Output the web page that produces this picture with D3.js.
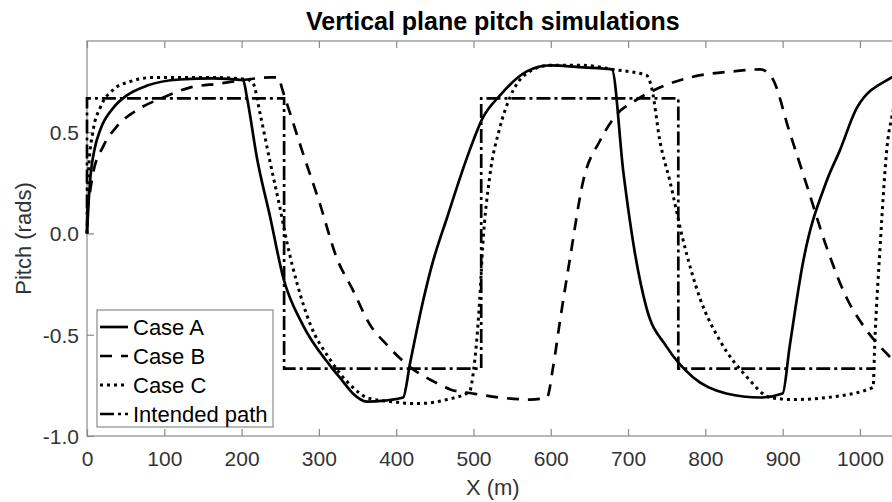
<!DOCTYPE html>
<html>
<head>
<meta charset="utf-8">
<script src="https://cdn.jsdelivr.net/npm/d3@7"></script>
<style>
  body { margin: 0; background: #fff; overflow: hidden; }
  text { font-family: "Liberation Sans", Arial, sans-serif; }
</style>
</head>
<body>
<div id="chart"></div>
<script>

var W = 892, H = 502;

// data: [x (m), pitch (rads)]
var caseA = [[0,0],[2,0.15],[4,0.26],[10,0.42],[17,0.51],[34,0.62],[51,0.68],[78,0.73],[120,0.76],[163,0.765],
	[202,0.757],[207,0.67],[220,0.37],[237,0.08],[254,-0.22],[279,-0.45],[314,-0.65],[331,-0.73],[344,-0.79],
	[362,-0.83],[385,-0.825],[409,-0.81],[418,-0.64],[435,-0.33],[446,-0.16],[466,0.08],[495,0.41],[512,0.57],
	[534,0.68],[569,0.80],[599,0.83],[642,0.82],[679,0.81],[694,0.30],[709,-0.10],[724,-0.37],[750,-0.56],
	[784,-0.71],[827,-0.79],[871,-0.81],[900,-0.79],[909,-0.56],[926,-0.15],[957,0.26],[974,0.41],[996,0.62],
	[1041,0.77],[1050,0.79]];

var caseB = [[0,0.1],[8,0.30],[21,0.43],[39,0.53],[65,0.61],[98,0.67],[133,0.72],[172,0.74],[207,0.76],[237,0.77],
	[248,0.77],[252,0.72],[263,0.59],[279,0.40],[301,0.15],[323,-0.12],[344,-0.28],[366,-0.45],[388,-0.55],
	[418,-0.66],[448,-0.73],[470,-0.77],[499,-0.79],[534,-0.81],[573,-0.82],[595,-0.81],[603,-0.66],[612,-0.43],
	[625,-0.12],[642,0.26],[664,0.46],[686,0.59],[711,0.66],[741,0.72],[780,0.77],[836,0.80],[871,0.81],
	[886,0.77],[909,0.50],[931,0.24],[957,-0.07],[983,-0.32],[1009,-0.48],[1039,-0.61],[1050,-0.65]];

var caseC = [[0,0],[2,0.31],[8,0.51],[17,0.62],[34,0.71],[56,0.75],[86,0.77],[120,0.77],[163,0.77],[207,0.76],
	[215,0.74],[224,0.59],[237,0.35],[250,0.12],[259,-0.05],[272,-0.25],[289,-0.45],[314,-0.62],[327,-0.69],
	[344,-0.76],[362,-0.81],[392,-0.83],[427,-0.84],[466,-0.82],[495,-0.78],[500,-0.68],[508,-0.33],[512,-0.06],
	[521,0.28],[534,0.52],[547,0.67],[569,0.79],[599,0.83],[642,0.83],[680,0.81],[724,0.78],[731,0.71],
	[741,0.46],[754,0.26],[771,-0.03],[793,-0.32],[819,-0.53],[854,-0.71],[884,-0.81],[914,-0.82],[957,-0.81],
	[1017,-0.76],[1019,-0.56],[1026,-0.07],[1036,0.46],[1041,0.57],[1050,0.72]];

var intended = [[0,0],[0,0.667],[255,0.667],[255,-0.667],[510,-0.667],[510,0.667],[765,0.667],[765,-0.667],[1020,-0.667]];

var xTicks = [0,100,200,300,400,500,600,700,800,900,1000];
var yTicks = [-1,-0.5,0,0.5];

var seriesNames = ["Case A","Case B","Case C","Intended path"];
var seriesData = [caseA, caseB, caseC, intended];
var dashes = [null, "12,9", "3,4", "14,4,3,4"];

var mLeft = 87, mTop = 41, mBottom = 436;

var x = d3.scaleLinear().domain([0,1050]).range([mLeft, mLeft + 811.6]);
var y = d3.scaleLinear().domain([-1,0.95]).range([mBottom, mTop]);

var svg = d3.select("#chart").append("svg")
	.attr("width", W)
	.attr("height", H);

svg.append("rect").attr("width", W).attr("height", H).attr("fill", "#fff");

// box
svg.append("rect")
	.attr("x", x(0)).attr("y", mTop)
	.attr("width", x(1050) - x(0)).attr("height", mBottom - mTop)
	.attr("fill", "none").attr("stroke", "#8a8a8a").attr("stroke-width", 1.2);

// axes, ticks pointing in
var gx = svg.append("g").attr("transform", "translate(0," + mBottom + ")")
	.call(d3.axisBottom(x).tickValues(xTicks).tickSizeInner(-7).tickSizeOuter(0)
		.tickFormat(function(d){ return d; }));
var gxt = svg.append("g").attr("transform", "translate(0," + mTop + ")")
	.call(d3.axisTop(x).tickValues(xTicks).tickSizeInner(-7).tickSizeOuter(0).tickFormat(""));
var gy = svg.append("g").attr("transform", "translate(" + mLeft + ",0)")
	.call(d3.axisLeft(y).tickValues(yTicks).tickSizeInner(-7).tickSizeOuter(0)
		.tickFormat(function(d){ return d.toFixed(1); }));

[gx, gxt, gy].forEach(function(g){
	g.select(".domain").remove();
	g.selectAll(".tick line").attr("stroke", "#8a8a8a").attr("stroke-width", 1.2);
	g.selectAll("text").attr("fill", "#333").style("font-size", "21px")
		.style("font-family", "'Liberation Sans', Arial, sans-serif");
});
gx.selectAll("text").attr("dy", "0.71em").attr("y", 15);
gy.selectAll("text").attr("dy", "0.36em").attr("x", -8);

// lines
var line = d3.line()
	.x(function(d){ return x(d[0]); })
	.y(function(d){ return y(d[1]); });

svg.append("defs").append("clipPath").attr("id", "clip")
	.append("rect").attr("x", x(0) - 2).attr("y", mTop).attr("width", x(1050) - x(0) + 2).attr("height", mBottom - mTop);

var plot = svg.append("g").attr("clip-path", "url(#clip)");

seriesData.forEach(function(s, i){
	plot.append("path")
		.attr("d", i < 3 ? line.curve(d3.curveMonotoneX)(s) : line.curve(d3.curveLinear)(s))
		.attr("fill", "none")
		.attr("stroke", "#000")
		.attr("stroke-width", i == 2 ? 3 : 2.7)
		.attr("stroke-dasharray", dashes[i]);
});

// title and labels
svg.append("text")
	.attr("x", (x(0) + x(1050)) / 2).attr("y", 30)
	.attr("text-anchor", "middle")
	.style("font-size", "25px").style("font-weight", "bold")
	.attr("fill", "#000")
	.text("Vertical plane pitch simulations");

svg.append("text")
	.attr("x", (x(0) + x(1050)) / 2).attr("y", 495)
	.attr("text-anchor", "middle")
	.style("font-size", "22px")
	.attr("fill", "#333")
	.text("X (m)");

svg.append("text")
	.attr("transform", "translate(31," + (mTop + mBottom) / 2 + ") rotate(-90)")
	.attr("text-anchor", "middle")
	.style("font-size", "22px")
	.attr("fill", "#333")
	.text("Pitch (rads)");

// legend
var leg = svg.append("g").attr("transform", "translate(97,310)");
leg.append("rect")
	.attr("width", 176).attr("height", 117)
	.attr("fill", "#fff").attr("stroke", "#8a8a8a").attr("stroke-width", 1.2);

seriesNames.forEach(function(name, i){
	var cy = 17 + i * 29;
	leg.append("line")
		.attr("x1", 3).attr("x2", 31).attr("y1", cy).attr("y2", cy)
		.attr("stroke", "#000").attr("stroke-width", i == 2 ? 3 : 2.7)
		.attr("stroke-dasharray", dashes[i]);
	leg.append("text")
		.attr("x", 36).attr("y", cy + 8)
		.style("font-size", "22px")
		.attr("fill", "#000")
		.text(name);
});

</script>
</body>
</html>
